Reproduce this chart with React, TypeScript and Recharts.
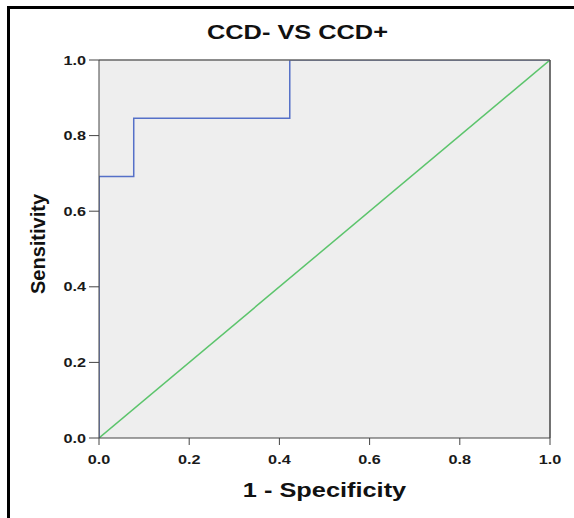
import React from "react";
import {
  LineChart,
  Line,
  XAxis,
  YAxis,
  ReferenceArea,
  ReferenceLine,
} from "recharts";

// ROC curve
const rocFpr = [0, 0, 0.077, 0.077, 0.423, 0.423, 1];
const rocTpr = [0, 0.692, 0.692, 0.846, 0.846, 1, 1];
// chance diagonal
const refFpr = [0, 1];
const refTpr = [0, 1];
const axisTicks = [0, 0.2, 0.4, 0.6, 0.8, 1];

const title = "CCD- VS CCD+";
const xTitle = "1 - Specificity";
const yTitle = "Sensitivity";

const rocData = rocFpr.map((x, i) => ({ x, y: rocTpr[i] }));
const refData = refFpr.map((x, i) => ({ x, y: refTpr[i] }));

const FONT = "'Liberation Sans', Arial, sans-serif";
const STRETCH = 1.3;

function YTick(props: any) {
  const { x, y, payload } = props;
  return (
    <g transform={`translate(${x},${y})`}>
      <text
        transform={`scale(${STRETCH},1)`}
        textAnchor="end"
        dy="0.36em"
        fontFamily={FONT}
        fontSize={12.5}
        fontWeight="bold"
        fill="#1a1a1a"
      >
        {Number(payload.value).toFixed(1)}
      </text>
    </g>
  );
}

function XTick(props: any) {
  const { x, y, payload } = props;
  return (
    <g transform={`translate(${x},${y})`}>
      <text
        transform={`scale(${STRETCH},1)`}
        textAnchor="middle"
        dy="0.71em"
        fontFamily={FONT}
        fontSize={12.5}
        fontWeight="bold"
        fill="#1a1a1a"
      >
        {Number(payload.value).toFixed(1)}
      </text>
    </g>
  );
}

function XTitle(props: any) {
  const vb = props.viewBox || { x: 99, y: 438, width: 451 };
  const cx = vb.x + vb.width / 2;
  return (
    <g transform={`translate(${cx},${vb.y + 59})`}>
      <text
        transform={`scale(${STRETCH},1)`}
        textAnchor="middle"
        fontFamily={FONT}
        fontSize={19.5}
        fontWeight="bold"
        fill="#111"
      >
        {xTitle}
      </text>
    </g>
  );
}

function YTitle(props: any) {
  const vb = props.viewBox || { x: 0, y: 60, width: 99, height: 378 };
  const cy = vb.y + vb.height / 2 - 5;
  return (
    <text
      transform={`translate(45,${cy}) rotate(-90)`}
      textAnchor="middle"
      fontFamily={FONT}
      fontSize={20}
      fontWeight="bold"
      fill="#111"
    >
      {yTitle}
    </text>
  );
}

export default function App() {
  return (
    <div
      style={{
        position: "absolute",
        left: 0,
        top: 0,
        width: 574,
        height: 518,
        background: "#fff",
        overflow: "hidden",
      }}
    >
      <div
        style={{
          position: "absolute",
          left: 7,
          top: 6,
          width: 600,
          height: 600,
          borderLeft: "3px solid #000",
          borderTop: "3px solid #000",
        }}
      />
      <div
        style={{
          position: "absolute",
          left: 0,
          top: 22,
          width: 595,
          textAlign: "center",
          fontFamily: FONT,
          fontSize: 19.5,
          lineHeight: "20px",
          fontWeight: "bold",
          color: "#111",
          transform: `scaleX(${STRETCH})`,
          transformOrigin: "297.5px 0",
        }}
      >
        {title}
      </div>
      <div style={{ position: "absolute", left: 0, top: 0 }}>
        <LineChart
          width={574}
          height={518}
          margin={{ top: 60, right: 24, bottom: 0, left: 0 }}
        >
          <XAxis
            type="number"
            dataKey="x"
            domain={[0, 1]}
            ticks={axisTicks}
            allowDataOverflow
            height={80}
            stroke="#444"
            tickSize={7}
            tickMargin={10}
            tick={<XTick />}
            label={<XTitle />}
          />
          <YAxis
            type="number"
            dataKey="y"
            domain={[0, 1]}
            ticks={axisTicks}
            allowDataOverflow
            width={99}
            stroke="#444"
            tickSize={10}
            tickMargin={3}
            tick={<YTick />}
            label={<YTitle />}
          />
          <ReferenceArea
            x1={0}
            x2={1}
            y1={0}
            y2={1}
            fill="#eeeeee"
            fillOpacity={1}
            stroke="none"
          />
          <Line
            data={refData}
            dataKey="y"
            type="linear"
            stroke="#5cc46c"
            strokeWidth={1.5}
            dot={false}
            isAnimationActive={false}
          />
          <Line
            data={rocData}
            dataKey="y"
            type="linear"
            stroke="#5570c8"
            strokeWidth={1.5}
            dot={false}
            isAnimationActive={false}
          />
          <ReferenceLine y={1} stroke="#666" strokeWidth={1.5} />
          <ReferenceLine x={1} stroke="#444" strokeWidth={1.5} />
        </LineChart>
      </div>
    </div>
  );
}
